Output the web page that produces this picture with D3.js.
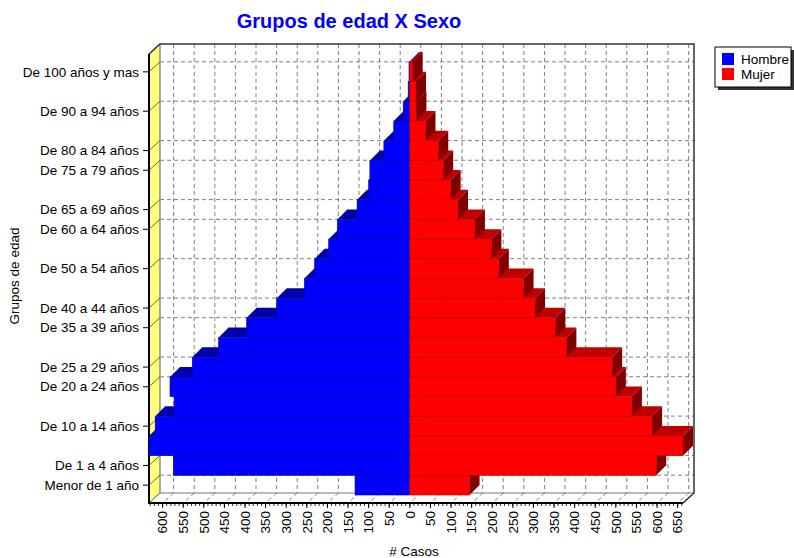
<!DOCTYPE html>
<html>
<head>
<meta charset="utf-8">
<script src="https://cdn.jsdelivr.net/npm/d3@7"></script>
<style>
  body { margin: 0; background: #fff; }
  svg text { font-family: "Liberation Sans", Arial, sans-serif; }
</style>
</head>
<body>
<svg id="chart" width="794" height="558"></svg>
<script>
// age groups, top to bottom as drawn
const ageGroups = [
  "De 100 años y mas", "De 95 a 99 años", "De 90 a 94 años", "De 85 a 89 años",
  "De 80 a 84 años", "De 75 a 79 años", "De 70 a 74 años", "De 65 a 69 años",
  "De 60 a 64 años", "De 55 a 59 años", "De 50 a 54 años", "De 45 a 49 años",
  "De 40 a 44 años", "De 35 a 39 años", "De 30 a 34 años", "De 25 a 29 años",
  "De 20 a 24 años", "De 15 a 19 años", "De 10 a 14 años", "De 5 a 9 años",
  "De 1 a 4 años", "Menor de 1 año"
];
const hombre = [2, 4, 16, 39, 63, 97, 100, 128, 176, 197, 231, 256, 323, 396, 464, 528, 582, 572, 618, 633, 574, 133];
const mujer  = [7, 15, 16, 38, 69, 81, 99, 117, 158, 198, 216, 276, 304, 353, 380, 491, 500, 539, 588, 663, 598, 145];

// only these category labels are printed on the axis
const shownLabels = [
  "De 100 años y mas", "De 90 a 94 años", "De 80 a 84 años", "De 75 a 79 años",
  "De 65 a 69 años", "De 60 a 64 años", "De 50 a 54 años", "De 40 a 44 años",
  "De 35 a 39 años", "De 25 a 29 años", "De 20 a 24 años", "De 10 a 14 años",
  "De 1 a 4 años", "Menor de 1 año"
];
const xTicks = d3.range(-600, 651, 50);
const xMinor = d3.range(-630, 661, 10);
const seriesNames = ["Hombre", "Mujer"];

(function(){
  const svg = d3.select('#chart');
  const FS = '13.5px';

  // front plane of the 3d box, and its depth offset
  const X0 = 149, X1 = 683, Y0 = 54, Y1 = 503;
  const DX = 11, DY = 10;      // walls
  const BDX = 10, BDY = 10;    // bars

  const x = d3.scaleLinear()
    .domain([-d3.max(hombre), d3.max(mujer)])
    .range([X0, X1]);
  const y = d3.scaleBand().domain(ageGroups).range([62, 495]).padding(0);
  const bw = y.bandwidth();

  const path = pts => 'M' + pts.map(p => p.join(',')).join('L') + 'Z';

  const colors = {
    Hombre: { front: '#0000ff', top: '#0000a8', side: '#000080' },
    Mujer:  { front: '#ff0000', top: '#c00000', side: '#800000' }
  };

  // title
  svg.append('text')
    .attr('x', 349).attr('y', 28)
    .attr('text-anchor', 'middle')
    .style('font-size', '20px').style('font-weight', 'bold')
    .style('fill', '#0000ff')
    .text('Grupos de edad X Sexo');

  const box = svg.append('g');

  // back wall
  box.append('rect')
    .attr('x', X0 + DX).attr('y', Y0 - DY)
    .attr('width', X1 - X0).attr('height', Y1 - Y0)
    .style('fill', '#fff');
  // left wall (yellow)
  box.append('path')
    .attr('d', path([[X0, Y0], [X0 + DX, Y0 - DY], [X0 + DX, Y1 - DY], [X0, Y1]]))
    .style('fill', '#ffff80').style('stroke', '#333').style('stroke-width', 0.8);
  // floor
  box.append('path')
    .attr('d', path([[X0, Y1], [X0 + DX, Y1 - DY], [X1 + DX, Y1 - DY], [X1, Y1]]))
    .style('fill', '#fff').style('stroke', '#555').style('stroke-width', 0.8);

  // gridlines
  const grid = box.append('g')
    .style('stroke', '#808080').style('stroke-width', 1)
    .style('stroke-dasharray', '4,3').style('fill', 'none');
  grid.selectAll('line.vx').data(xTicks).join('line')
    .attr('x1', d => x(d) + DX).attr('x2', d => x(d) + DX)
    .attr('y1', Y0 - DY).attr('y2', Y1 - DY);
  grid.selectAll('line.fx').data(xTicks).join('line').attr('class', 'fx')
    .attr('x1', d => x(d) + DX).attr('x2', d => x(d))
    .attr('y1', Y1 - DY).attr('y2', Y1);
  grid.selectAll('line.hy').data(shownLabels).join('line').attr('class', 'hy')
    .attr('x1', X0 + DX).attr('x2', X1 + DX)
    .attr('y1', d => y(d) + bw / 2 - DY).attr('y2', d => y(d) + bw / 2 - DY);

  // wall diagonals for category ticks
  box.selectAll('line.wy').data(shownLabels).join('line').attr('class', 'wy')
    .attr('x1', X0).attr('x2', X0 + DX)
    .attr('y1', d => y(d) + bw / 2).attr('y2', d => y(d) + bw / 2 - DY)
    .style('stroke', '#444').style('stroke-width', 0.8);

  // box outline: back top/right edges and connecting diagonals
  const edge = box.append('g').style('stroke', '#333').style('stroke-width', 1.5).style('fill', 'none');
  edge.append('path').attr('d', `M${X0},${Y0}L${X0 + DX},${Y0 - DY}L${X1 + DX},${Y0 - DY}L${X1 + DX},${Y1 - DY}L${X1},${Y1}`);

  // axis lines (front)
  const axisG = svg.append('g').style('stroke', '#000').style('fill', 'none');
  axisG.append('path').attr('d', `M${X0},${Y0}L${X0},${Y1}L${X1},${Y1}`).style('stroke-width', 2);

  // bars, drawn from the bottom row upward so upper rows hide lower tops
  const rows = ageGroups.map((g, i) => ({ group: g, Hombre: hombre[i], Mujer: mujer[i] })).reverse();
  const barsG = svg.append('g');
  const rowG = barsG.selectAll('g.row').data(rows).join('g').attr('class', 'row');

  rowG.each(function(d){
    const node = d3.select(this);
    const yt = y(d.group), yb = yt + bw;
    seriesNames.forEach(s => {
      const xl = s === 'Hombre' ? x(-d.Hombre) : x(0);
      const xr = s === 'Hombre' ? x(0) : x(d.Mujer);
      const c = colors[s];
      node.append('path')
        .attr('d', path([[xl, yt], [xr, yt], [xr + BDX, yt - BDY], [xl + BDX, yt - BDY]]))
        .style('fill', c.top);
      node.append('path')
        .attr('d', path([[xr, yt], [xr + BDX, yt - BDY], [xr + BDX, yb - BDY], [xr, yb]]))
        .style('fill', c.side);
      node.append('rect')
        .attr('x', xl).attr('y', yt)
        .attr('width', xr - xl).attr('height', bw)
        .style('fill', c.front)
        .style('stroke', c.top).style('stroke-width', 0.6);
    });
  });

  // x axis ticks and labels
  axisG.selectAll('line.minor').data(xMinor).join('line').attr('class', 'minor')
    .attr('x1', d => x(d)).attr('x2', d => x(d))
    .attr('y1', Y1).attr('y2', Y1 + 3).style('stroke-width', 0.8);
  axisG.selectAll('line.major').data(xTicks).join('line').attr('class', 'major')
    .attr('x1', d => x(d)).attr('x2', d => x(d))
    .attr('y1', Y1).attr('y2', Y1 + 5).style('stroke-width', 1);

  svg.append('g').selectAll('text').data(xTicks).join('text')
    .attr('transform', d => `translate(${x(d)},${Y1 + 8}) rotate(-90)`)
    .attr('text-anchor', 'end')
    .attr('dy', '0.35em')
    .style('font-size', FS).style('fill', '#000')
    .text(d => Math.abs(d));

  // y axis ticks and labels
  axisG.selectAll('line.ytick').data(shownLabels).join('line').attr('class', 'ytick')
    .attr('x1', X0 - 6).attr('x2', X0)
    .attr('y1', d => y(d) + bw / 2).attr('y2', d => y(d) + bw / 2)
    .style('stroke-width', 1);
  svg.append('g').selectAll('text').data(shownLabels).join('text')
    .attr('x', X0 - 10)
    .attr('y', d => y(d) + bw / 2)
    .attr('dy', '0.35em')
    .attr('text-anchor', 'end')
    .style('font-size', FS).style('fill', '#000')
    .text(d => d);

  // axis titles
  svg.append('text')
    .attr('transform', 'translate(19,276) rotate(-90)')
    .attr('text-anchor', 'middle')
    .style('font-size', FS)
    .text('Grupos de edad');
  svg.append('text')
    .attr('x', 414).attr('y', 556)
    .attr('text-anchor', 'middle')
    .style('font-size', FS)
    .text('# Casos');

  // legend with drop shadow
  const lg = svg.append('g').attr('transform', 'translate(715,47)');
  lg.append('rect').attr('x', 3).attr('y', 3).attr('width', 76).attr('height', 40).style('fill', '#333');
  lg.append('rect').attr('width', 76).attr('height', 40)
    .style('fill', '#fff').style('stroke', '#000').style('stroke-width', 1);
  const li = lg.selectAll('g.item').data(seriesNames).join('g')
    .attr('transform', (d, i) => `translate(7,${6 + i * 15})`);
  li.append('rect').attr('width', 12).attr('height', 12)
    .style('fill', d => colors[d].front);
  li.append('text').attr('x', 19).attr('y', 6).attr('dy', '0.35em')
    .style('font-size', FS)
    .text(d => d);
})();
</script>
</body>
</html>
